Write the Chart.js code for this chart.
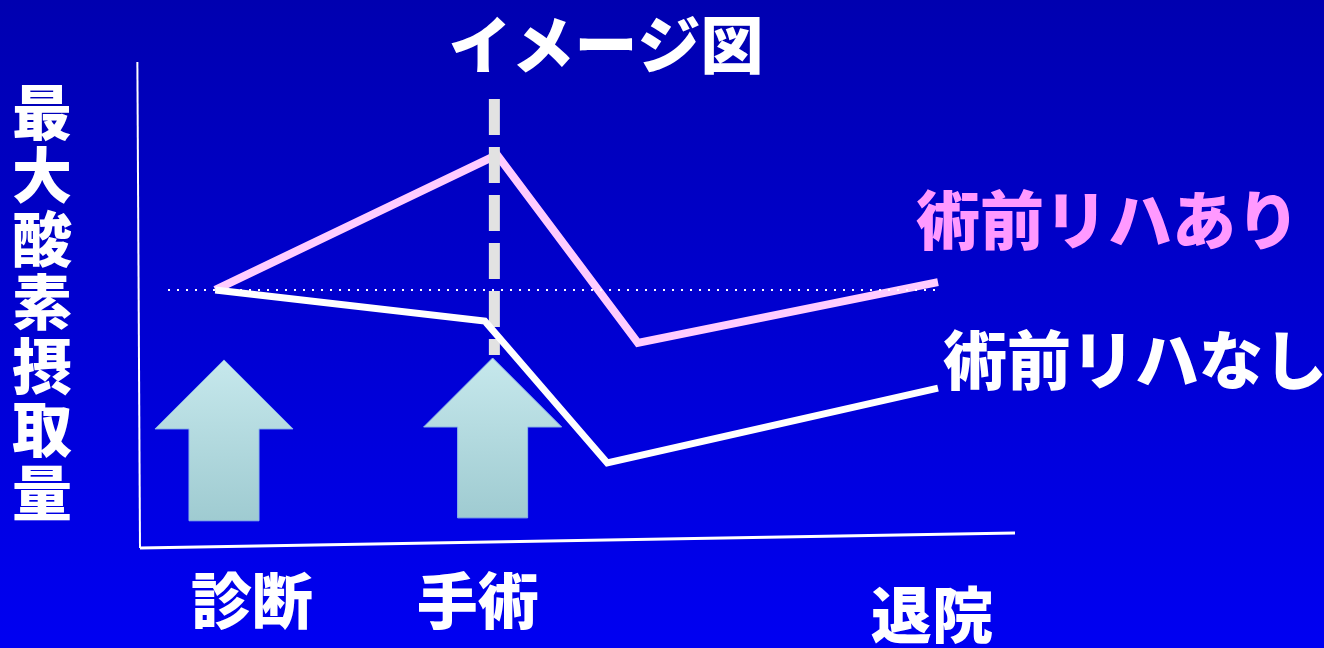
<!DOCTYPE html>
<html>
<head>
<meta charset="utf-8">
<script src="https://cdn.jsdelivr.net/npm/chart.js@4"></script>
<style>
  html, body { margin: 0; padding: 0; }
  body {
    width: 1324px; height: 648px; overflow: hidden;
    background: linear-gradient(to bottom, #0000b0 0%, #0000f2 100%);
  }
  #wrap { width: 1324px; height: 648px; }
</style>
</head>
<body>
<div id="wrap"><canvas id="imageChart"></canvas></div>
<script>
// イメージ図 - 最大酸素摂取量の推移 (x: 0..100 = 時間, y: 0..100 = 相対値)

// 時点ラベル
const phaseLabels = ['診断', '手術', '退院'];
const phaseX = [12.8, 38.6, 90.5];

// 系列
const withRehabX = [8.6, 40.8, 56.9, 91.2];
const withRehabY = [53.1, 80.9, 42.2, 54.7];
const withoutRehabX = [8.6, 39.4, 53.4, 91.2];
const withoutRehabY = [53.1, 46.7, 17.5, 32.9];

// 基準線（点線）と手術時点（破線）
const baselineX = [3.2, 91.4];
const baselineY = [53.1, 53.1];
const surgeryX = [40.5, 40.5];
const surgeryY = [92.4, 39.7];

// 軸（少し傾いている）
const yAxisX = [-0.3, 0];
const yAxisY = [100, 0];
const xAxisX = [0, 100];
const xAxisY = [0, 3.1];

// 矢印（中心x, 先端y, 底y）
const arrowX = [9.6, 40.3];
const arrowTipY = [38.7, 39.1];
const arrowBaseY = [5.6, 6.2];

function toPoints(xs, ys) {
    return xs.map((x, i) => ({ x: x, y: ys[i] }));
}

const FONT = '"Noto Sans CJK JP", "Noto Sans", sans-serif';

// 矢印を描く
const arrowPlugin = {
    id: 'arrows',
    beforeDatasetsDraw(chart) {
        const { ctx, scales } = chart;
        arrowX.forEach((ax, i) => {
            const cx = scales.x.getPixelForValue(ax);
            const tip = scales.y.getPixelForValue(arrowTipY[i]);
            const base = scales.y.getPixelForValue(arrowBaseY[i]);
            const headH = 69, headW = 69, shaftW = 35;
            const grad = ctx.createLinearGradient(0, tip, 0, base);
            grad.addColorStop(0, '#c6e8ec');
            grad.addColorStop(1, '#9fcbd1');
            ctx.save();
            ctx.beginPath();
            ctx.moveTo(cx, tip);
            ctx.lineTo(cx + headW, tip + headH);
            ctx.lineTo(cx + shaftW, tip + headH);
            ctx.lineTo(cx + shaftW, base);
            ctx.lineTo(cx - shaftW, base);
            ctx.lineTo(cx - shaftW, tip + headH);
            ctx.lineTo(cx - headW, tip + headH);
            ctx.closePath();
            ctx.fillStyle = grad;
            ctx.fill();
            ctx.lineWidth = 1;
            ctx.strokeStyle = '#8fb8e8';
            ctx.stroke();
            ctx.restore();
        });
    }
};

// 文字を描く
const textPlugin = {
    id: 'texts',
    afterDatasetsDraw(chart) {
        const { ctx, scales } = chart;
        ctx.save();
        ctx.textAlign = 'center';
        ctx.textBaseline = 'middle';
        ctx.fillStyle = '#ffffff';
        ctx.font = '900 63px ' + FONT;
        ctx.fillText('イメージ図', 606, 44);

        // 縦書きの軸タイトル
        const yTitle = '最大酸素摂取量';
        ctx.font = '900 60px ' + FONT;
        [...yTitle].forEach((ch, i) => {
            ctx.fillText(ch, 42, 112 + i * 63.5);
        });

        // 時点ラベル
        ctx.font = '900 61px ' + FONT;
        phaseLabels.forEach((lab, i) => {
            const px = scales.x.getPixelForValue(phaseX[i]);
            ctx.fillText(lab, px, i === 2 ? 615 : 601);
        });

        // 系列名
        ctx.textAlign = 'left';
        ctx.font = '900 64px ' + FONT;
        ctx.fillStyle = '#ff99ff';
        ctx.fillText('術前リハあり', 916, 220);
        ctx.fillStyle = '#ffffff';
        ctx.fillText('術前リハなし', 943, 360);
        ctx.restore();
    }
};

document.addEventListener('DOMContentLoaded', function() {
    const ctx = document.getElementById('imageChart');
    new Chart(ctx, {
        type: 'line',
        data: {
            datasets: [
                {
                    label: 'y軸',
                    data: toPoints(yAxisX, yAxisY),
                    borderColor: '#ffffff',
                    borderWidth: 2,
                    pointRadius: 0
                },
                {
                    label: 'x軸',
                    data: toPoints(xAxisX, xAxisY),
                    borderColor: '#ffffff',
                    borderWidth: 3,
                    pointRadius: 0
                },
                {
                    label: '基準',
                    data: toPoints(baselineX, baselineY),
                    borderColor: '#ffffff',
                    borderWidth: 2,
                    borderDash: [2, 7],
                    pointRadius: 0
                },
                {
                    label: '術前リハなし',
                    data: toPoints(withoutRehabX, withoutRehabY),
                    borderColor: '#ffffff',
                    borderWidth: 7,
                    pointRadius: 0,
                    tension: 0
                },
                {
                    label: '手術',
                    data: toPoints(surgeryX, surgeryY),
                    borderColor: '#e2e2e2',
                    borderWidth: 11,
                    borderDash: [36, 12],
                    borderCapStyle: 'butt',
                    pointRadius: 0
                },
                {
                    label: '術前リハあり',
                    data: toPoints(withRehabX, withRehabY),
                    borderColor: '#ffccff',
                    borderWidth: 8,
                    pointRadius: 0,
                    tension: 0
                }
            ]
        },
        options: {
            responsive: true,
            maintainAspectRatio: false,
            animation: false,
            clip: false,
            layout: {
                padding: { left: 140, top: 62, right: 309, bottom: 100 }
            },
            scales: {
                x: { type: 'linear', min: 0, max: 100, display: false },
                y: { type: 'linear', min: 0, max: 100, display: false }
            },
            plugins: {
                legend: { display: false },
                tooltip: { enabled: false }
            }
        },
        plugins: [arrowPlugin, textPlugin]
    });
});
</script>
</body>
</html>
